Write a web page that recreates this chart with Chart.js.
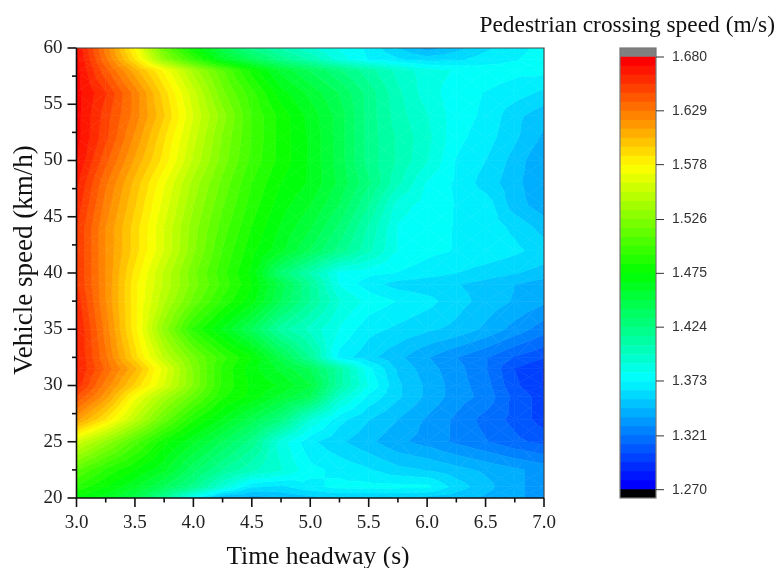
<!DOCTYPE html>
<html><head><meta charset="utf-8">
<style>html,body{margin:0;padding:0;background:#fff;width:776px;height:568px;overflow:hidden}
canvas{position:absolute;top:0}</style>
<script src="https://cdn.jsdelivr.net/npm/chart.js@4"></script></head>
<body><canvas id="main" width="776" height="568" style="left:0"></canvas>
<canvas id="bar" width="316" height="568" style="left:460px"></canvas>
<script>
const headway=[3,3.25,3.5,3.75,4,4.25,4.5,4.75,5,5.25,5.5,5.75,6,6.25,6.5,6.75,7];
const speedRows=[20,21,22.5,25,27,29,30,31.5,32.5,35,37.5,39,40,42,44,46,48,50,52,54,56,58,59,60];
const r20=[1.47,1.462,1.445,1.415,1.375,1.345,1.342,1.348,1.352,1.355,1.355,1.355,1.352,1.35,1.345,1.34,1.335];
const r21=[1.49,1.475,1.46,1.44,1.42,1.39,1.365,1.362,1.37,1.375,1.375,1.375,1.375,1.36,1.35,1.34,1.335];
const r22=[1.51,1.49,1.475,1.46,1.435,1.415,1.4,1.39,1.375,1.37,1.365,1.358,1.355,1.35,1.345,1.34,1.335];
const r25=[1.558,1.532,1.505,1.478,1.46,1.44,1.42,1.385,1.366,1.357,1.349,1.34,1.335,1.328,1.322,1.315,1.31];
const r27=[1.615,1.585,1.55,1.515,1.485,1.465,1.445,1.425,1.39,1.367,1.356,1.347,1.337,1.328,1.318,1.31,1.3];
const r29=[1.645,1.615,1.572,1.54,1.513,1.485,1.472,1.455,1.44,1.395,1.37,1.357,1.345,1.334,1.327,1.31,1.3];
const r30=[1.66,1.625,1.592,1.56,1.525,1.49,1.473,1.465,1.45,1.41,1.38,1.357,1.345,1.334,1.325,1.306,1.295];
const r31=[1.665,1.635,1.605,1.565,1.525,1.49,1.47,1.455,1.44,1.41,1.375,1.354,1.342,1.333,1.322,1.304,1.295];
const r32=[1.665,1.63,1.59,1.55,1.52,1.495,1.475,1.445,1.415,1.369,1.358,1.349,1.339,1.33,1.322,1.312,1.305];
const r35=[1.665,1.625,1.58,1.53,1.49,1.465,1.44,1.41,1.395,1.38,1.367,1.362,1.357,1.353,1.345,1.335,1.325];
const r37=[1.66,1.62,1.58,1.545,1.515,1.49,1.47,1.44,1.415,1.39,1.378,1.372,1.367,1.359,1.352,1.346,1.34];
const r39=[1.655,1.62,1.58,1.55,1.522,1.498,1.475,1.445,1.415,1.38,1.368,1.36,1.358,1.356,1.352,1.347,1.342];
const r40=[1.655,1.62,1.583,1.55,1.52,1.495,1.472,1.43,1.405,1.378,1.375,1.372,1.368,1.364,1.36,1.356,1.352];
const r42=[1.655,1.62,1.59,1.56,1.528,1.5,1.478,1.46,1.44,1.42,1.4,1.38,1.375,1.372,1.37,1.366,1.36];
const r44=[1.655,1.62,1.59,1.56,1.53,1.505,1.483,1.465,1.45,1.43,1.405,1.38,1.375,1.372,1.369,1.362,1.352];
const r46=[1.66,1.625,1.595,1.565,1.535,1.51,1.488,1.47,1.458,1.44,1.415,1.385,1.377,1.372,1.369,1.351,1.342];
const r48=[1.665,1.63,1.6,1.57,1.54,1.515,1.492,1.475,1.465,1.447,1.425,1.4,1.38,1.371,1.36,1.35,1.338];
const r50=[1.672,1.64,1.61,1.582,1.55,1.522,1.498,1.48,1.465,1.445,1.42,1.405,1.39,1.372,1.364,1.352,1.338];
const r52=[1.675,1.648,1.618,1.587,1.555,1.525,1.5,1.48,1.465,1.445,1.42,1.405,1.392,1.375,1.368,1.357,1.345];
const r54=[1.675,1.65,1.625,1.595,1.56,1.53,1.5,1.48,1.463,1.445,1.42,1.402,1.39,1.376,1.371,1.358,1.35];
const r56=[1.675,1.655,1.625,1.59,1.555,1.52,1.495,1.47,1.455,1.44,1.42,1.4,1.385,1.376,1.372,1.368,1.362];
const r58=[1.675,1.64,1.607,1.575,1.54,1.51,1.48,1.455,1.44,1.425,1.41,1.395,1.385,1.38,1.377,1.375,1.375];
const r59=[1.674,1.63,1.585,1.53,1.495,1.46,1.44,1.42,1.405,1.385,1.372,1.365,1.36,1.362,1.368,1.372,1.375];
const r60=[1.672,1.625,1.575,1.515,1.475,1.445,1.42,1.405,1.39,1.38,1.37,1.355,1.342,1.352,1.362,1.37,1.375];
const speedGrid=[r20,r21,r22,r25,r27,r29,r30,r31,r32,r35,r37,r39,r40,r42,r44,r46,r48,r50,r52,r54,r56,r58,r59,r60];
const barTicks=[1.27,1.321,1.373,1.424,1.475,1.526,1.578,1.629,1.68];
const levelMin=1.27, levelMax=1.68, levelCount=48;
const xTitle='Time headway (s)', yTitle='Vehicle speed (km/h)', barTitle='Pedestrian crossing speed (m/s)';

function rainbow(t){
  const s=[[0,0,255],[0,255,255],[0,255,0],[255,255,0],[255,0,0]];
  const p=Math.max(0,Math.min(1,t))*4,i=Math.min(3,Math.floor(p)),f=p-i;
  const c=s[i].map((a,k)=>Math.round(a+(s[i+1][k]-a)*f));
  return `rgb(${c[0]},${c[1]},${c[2]})`;
}
const step=(levelMax-levelMin)/levelCount;
const bandColor=i=>rainbow(i/(levelCount-1));

function clip(poly,level,keepAbove){
  const out=[];
  for(let i=0;i<poly.length;i++){
    const a=poly[i],b=poly[(i+1)%poly.length];
    const ia=keepAbove?a[2]>=level:a[2]<=level, ib=keepAbove?b[2]>=level:b[2]<=level;
    if(ia)out.push(a);
    if(ia!==ib){const f=(level-a[2])/(b[2]-a[2]);out.push([a[0]+(b[0]-a[0])*f,a[1]+(b[1]-a[1])*f,level]);}
  }
  return out;
}
const contourPlugin={id:'contour',beforeDatasetsDraw(chart){
  const {ctx,scales:{x,y}}=chart;
  const pt=(i,j)=>[x.getPixelForValue(headway[i]),y.getPixelForValue(speedRows[j]),speedGrid[j][i]];
  ctx.save();ctx.beginPath();ctx.rect(chart.chartArea.left,chart.chartArea.top,chart.chartArea.width,chart.chartArea.height);ctx.clip();
  ctx.lineWidth=0.6;ctx.lineJoin='round';
  for(let j=0;j<speedRows.length-1;j++)for(let i=0;i<headway.length-1;i++){
    const a=pt(i,j),b=pt(i+1,j),c=pt(i+1,j+1),d=pt(i,j+1);
    const m=[(a[0]+b[0]+c[0]+d[0])/4,(a[1]+b[1]+c[1]+d[1])/4,(a[2]+b[2]+c[2]+d[2])/4];
    for(const tri of [[a,b,m],[b,c,m],[c,d,m],[d,a,m]]){
      const lo=Math.min(tri[0][2],tri[1][2],tri[2][2]),hi=Math.max(tri[0][2],tri[1][2],tri[2][2]);
      const i0=Math.max(0,Math.floor((lo-levelMin)/step)),i1=Math.min(levelCount-1,Math.floor((hi-levelMin)/step));
      for(let k=i0;k<=i1;k++){
        let p=clip(tri,levelMin+k*step,true);if(p.length)p=clip(p,levelMin+(k+1)*step,false);
        if(p.length<3)continue;
        ctx.beginPath();p.forEach((q,n)=>n?ctx.lineTo(q[0],q[1]):ctx.moveTo(q[0],q[1]));ctx.closePath();
        ctx.fillStyle=ctx.strokeStyle=bandColor(k);ctx.fill();ctx.stroke();
      }
    }
  }
  ctx.restore();
}};
const axesPlugin={id:'axesMarks',afterDraw(chart){
  const {ctx,chartArea:ca,scales:{x,y}}=chart;
  ctx.save();
  ctx.strokeStyle='#444';ctx.lineWidth=1.2;
  ctx.beginPath();ctx.moveTo(ca.left,ca.top);ctx.lineTo(ca.right,ca.top);ctx.lineTo(ca.right,ca.bottom);ctx.stroke();
  ctx.strokeStyle='#111';ctx.lineWidth=1.6;
  ctx.beginPath();ctx.moveTo(ca.left,ca.top);ctx.lineTo(ca.left,ca.bottom);ctx.lineTo(ca.right,ca.bottom);ctx.stroke();
  x.ticks.forEach(t=>{const p=x.getPixelForValue(t.value),m=Math.abs(t.value*2-Math.round(t.value*2))<1e-6;
    ctx.beginPath();ctx.moveTo(p,ca.bottom);ctx.lineTo(p,ca.bottom+(m?9:4.5));ctx.stroke();});
  y.ticks.forEach(t=>{const p=y.getPixelForValue(t.value),m=t.value%5===0;
    ctx.beginPath();ctx.moveTo(ca.left,p);ctx.lineTo(ca.left-(m?9:4.5),p);ctx.stroke();});
  ctx.fillStyle='#111';ctx.textAlign='center';ctx.textBaseline='middle';
  ctx.font='25.5px "Liberation Serif"';ctx.fillText(xTitle,318,557);
  ctx.translate(25,260);ctx.rotate(-Math.PI/2);
  ctx.font='27px "Liberation Serif"';ctx.fillText(yTitle,0,0);
  ctx.restore();
}};
const tickFont={family:'"Liberation Serif"',size:19};
new Chart(document.getElementById('main'),{
  type:'scatter',
  data:{datasets:[{data:speedRows.flatMap((s,j)=>headway.map((h,i)=>({x:h,y:s,v:speedGrid[j][i]}))),pointRadius:0,showLine:false}]},
  plugins:[contourPlugin,axesPlugin],
  options:{responsive:false,animation:false,events:[],
    layout:{padding:{left:0,top:48,right:232,bottom:0}},
    plugins:{legend:{display:false},tooltip:{enabled:false},title:{display:false}},
    scales:{
      x:{type:'linear',min:3,max:7,grid:{display:false,drawTicks:false},border:{display:false},
        afterFit(s){s.height=70;},
        ticks:{stepSize:0.25,autoSkip:false,maxRotation:0,padding:14,color:'#222',font:tickFont,
          callback:v=>Math.abs(v*2-Math.round(v*2))<1e-6?v.toFixed(1):''}},
      y:{type:'linear',min:20,max:60,grid:{display:false,drawTicks:false},border:{display:false},
        afterFit(s){s.width=76.5;},
        ticks:{stepSize:2.5,autoSkip:false,padding:14,color:'#222',font:tickFont,
          callback:v=>v%5===0?String(v):''}}
    }
  }
});
const bandSets=[];
const pxPerUnit=432.7/(levelMax-levelMin);
const barMin=levelMin-8.3/pxPerUnit, barMax=levelMax+9/pxPerUnit;
bandSets.push({data:[[barMin,levelMin]],backgroundColor:'#000'});
for(let i=0;i<levelCount;i++)bandSets.push({data:[[levelMin+i*step,levelMin+(i+1)*step]],backgroundColor:bandColor(i)});
bandSets.push({data:[[levelMax,barMax]],backgroundColor:'#808080'});
bandSets.forEach(d=>{d.barPercentage=1;d.categoryPercentage=1;d.grouped=false;d.borderWidth=0;});
const barFrame={id:'barFrame',afterDraw(chart){
  const {ctx,chartArea:ca,scales:{y}}=chart;
  ctx.save();ctx.strokeStyle='#777';ctx.lineWidth=1.2;ctx.strokeRect(ca.left,ca.top,ca.width,ca.height);
  ctx.strokeStyle='#333';ctx.lineWidth=1;
  barTicks.forEach(v=>{const p=y.getPixelForValue(v);ctx.beginPath();ctx.moveTo(ca.right,p);ctx.lineTo(ca.right+8,p);ctx.stroke();});
  ctx.fillStyle='#111';ctx.font='23.4px "Liberation Serif"';ctx.textBaseline='middle';ctx.textAlign='right';
  ctx.fillText(barTitle,315,26);
  ctx.restore();
}};
new Chart(document.getElementById('bar'),{
  type:'bar',
  data:{labels:[''],datasets:bandSets},
  plugins:[barFrame],
  options:{responsive:false,animation:false,events:[],
    layout:{padding:{left:160,top:48,right:60,bottom:70}},
    plugins:{legend:{display:false},tooltip:{enabled:false},title:{display:false}},
    scales:{
      x:{display:false,grid:{display:false}},
      y:{position:'right',min:barMin,max:barMax,grid:{display:false,drawTicks:false},border:{display:false},
        afterFit(s){s.width=60;},
        afterBuildTicks(s){s.ticks=barTicks.map(v=>({value:v}));},
        ticks:{padding:16,color:'#333',font:{family:'"Liberation Sans"',size:14},callback:v=>v.toFixed(3)}}
    }
  }
});
</script></body></html>
